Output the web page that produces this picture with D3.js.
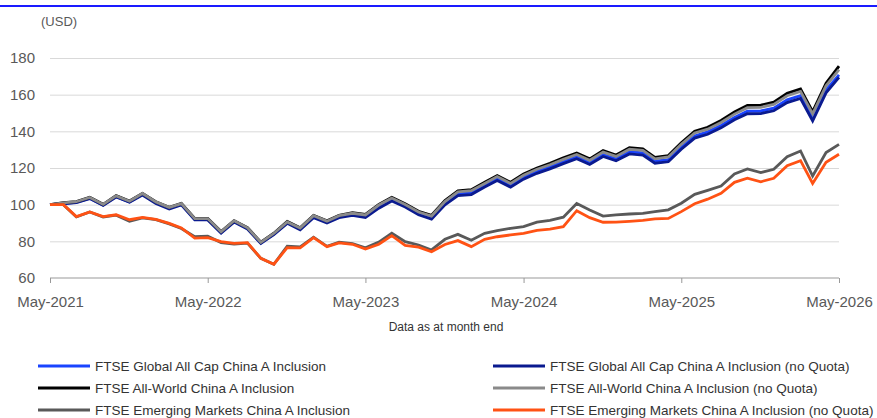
<!DOCTYPE html>
<html>
<head>
<meta charset="utf-8">
<script src="https://cdn.jsdelivr.net/npm/d3@7/dist/d3.min.js"></script>
<style>
  html, body { margin: 0; padding: 0; background: #fff; }
  svg { display: block; font-family: "Liberation Sans", Arial, sans-serif; }
</style>
</head>
<body>
<svg id="chart" width="877" height="418"></svg>
<script>
// ---- Data (monthly, May-2021 .. May-2026, rebased to 100) ----
const tickLabels = ["May-2021", "May-2022", "May-2023", "May-2024", "May-2025", "May-2026"];
const yTicks = [60, 80, 100, 120, 140, 160, 180];

const seriesNames = [
  "FTSE Global All Cap China A Inclusion",
  "FTSE Global All Cap China A Inclusion (no Quota)",
  "FTSE All-World China A Inclusion",
  "FTSE All-World China A Inclusion (no Quota)",
  "FTSE Emerging Markets China A Inclusion",
  "FTSE Emerging Markets China A Inclusion (no Quota)"
];

const globalAllCap = [100,100.7,101.3,103.5,99.8,104.4,101.5,105.6,101,98,100.2,92,92,84.8,90.8,87,79.1,83.9,90.2,86.8,93.4,90.5,93.4,94.7,93.6,98.8,102.8,99.4,95.2,92.8,100.8,105.9,106.5,110.6,114.2,110.5,114.9,118.2,120.6,123.5,126.2,123,127.4,125,128.9,128.2,123.8,124.6,131.4,137.5,139.7,143.2,147.6,151,151.1,152.6,157.2,159.5,147,162.6,170.8];
const globalAllCapNoQuota = [100,100.5,101.1,103.3,99.6,104.2,101.3,105.3,100.7,97.7,99.9,91.7,91.7,84.5,90.5,86.7,78.8,83.6,89.8,86.3,92.9,90,92.9,94.1,93,98.1,102,98.7,94.5,92.1,99.9,104.9,105.5,109.6,113.2,109.5,113.9,117.1,119.5,122.4,125.1,121.9,126.3,123.9,127.7,127,122.6,123.4,130.2,136.3,138.4,141.9,146.3,149.6,149.7,151.2,155.7,157.9,145.7,161,169.4];
const allWorld = [100,101.1,101.7,104,100.2,104.9,102,106.2,101.6,98.6,100.7,92.5,92.5,85.3,91.3,87.5,79.5,84.4,90.8,87.4,94.2,91.2,94.2,95.6,94.7,100.1,104,100.5,96.4,94.2,102.2,107.5,108.2,112.2,115.9,112.2,116.7,120,122.5,125.5,128.2,125,129.5,127.1,131.1,130.4,125.8,126.8,133.8,140.1,142.2,145.9,150.5,154.1,154.3,155.9,160.7,163.1,150.7,166.2,175.6];
const allWorldNoQuota = [100,101,101.6,103.9,100.1,104.8,101.9,106.1,101.5,98.5,100.6,92.4,92.4,85.2,91.2,87.4,79.4,84.3,90.6,87.2,94,91,94,95.3,94.4,99.8,103.6,100.1,96,93.8,101.7,107,107.6,111.6,115.3,111.6,116,119.3,121.8,124.7,127.4,124.2,128.7,126.3,130.2,129.6,125,126,132.9,139.1,141.2,144.8,149.4,152.9,153.1,154.7,159.4,161.8,149.5,164.8,173.6];
const emergingMarkets = [100,100,93.3,96,93.3,94.3,91,92.8,91.8,89.5,87,82.5,82.8,79.3,78.5,79,70.7,67.5,77.3,77,82.3,77.3,79.5,78.8,76.5,79.6,84.4,79.8,78,75.3,81.1,83.8,80.6,84.4,85.8,87.1,88,90.5,91.4,93.2,100.6,97.1,93.8,94.4,94.9,95.3,96.2,97.2,100.8,105.6,107.8,110.2,116.8,119.5,117.5,119.3,126.2,129.3,115.6,128.4,132.9];
const emergingMarketsNoQuota = [100,100,93.5,96,93.5,94.5,91.8,93.1,92,89.8,87.3,81.8,82,79.8,78.9,79.3,70.7,67.5,76.6,76.4,82,77.1,79.2,78.4,75.8,78.4,83.1,77.8,76.8,74.3,78.3,80.4,77.1,81.1,82.5,83.5,84.4,86,86.7,88,96.7,92.9,90.4,90.5,90.9,91.4,92.2,92.5,96.2,100.5,103,106.2,112.2,114.4,112.5,114.4,121.3,124,111.6,123.1,127.5];

const seriesValues = [globalAllCap, globalAllCapNoQuota, allWorld, allWorldNoQuota, emergingMarkets, emergingMarketsNoQuota];
const seriesColors = ["#1a44ff", "#0a1a8f", "#000000", "#8a8a8a", "#595959", "#ff5214"];

// ---- Layout ----
const svg = d3.select("#chart");
const plotL = 50, plotR = 839, plotT = 58, plotB = 278;

const months = d3.timeMonth.range(new Date(2021, 4, 1), new Date(2026, 5, 1));
const x = d3.scaleTime().domain([months[0], months[months.length - 1]]).range([plotL, plotR]);
const y = d3.scaleLinear().domain([60, 180]).range([plotB, plotT]);

// header rule
svg.append("line").attr("x1", 0).attr("x2", 877).attr("y1", 6).attr("y2", 6)
  .attr("stroke", "#1a1aff").attr("stroke-width", 2);

// unit label
svg.append("text").attr("x", 41).attr("y", 26).attr("font-size", 13).attr("fill", "#595959").text("(USD)");

// gridlines + y labels
const yAxis = d3.axisLeft(y).tickValues(yTicks).tickSize(-(plotR - plotL)).tickFormat(d3.format("d")).tickPadding(15);
const gy = svg.append("g").attr("transform", `translate(${plotL},0)`).call(yAxis);
gy.select(".domain").remove();
gy.selectAll(".tick line").attr("stroke", "#d9d9d9").attr("stroke-width", 1);
gy.selectAll(".tick text").attr("font-size", 15).attr("fill", "#595959").attr("font-family", "Liberation Sans, Arial, sans-serif");
gy.selectAll(".tick").filter(d => d === 60).select("line").remove();

// x axis
const tickDates = tickLabels.map((_, i) => months[i * 12]);
const xAxis = d3.axisBottom(x).tickValues(tickDates).tickSize(5).tickPadding(13)
  .tickFormat((d, i) => tickLabels[i]);
const gx = svg.append("g").attr("transform", `translate(0,${plotB})`).call(xAxis);
gx.select(".domain").attr("stroke", "#999").attr("d", `M${plotL},0H${plotR}`);
gx.selectAll(".tick line").attr("stroke", "#999");
gx.selectAll(".tick text").attr("font-size", 15).attr("fill", "#595959").attr("font-family", "Liberation Sans, Arial, sans-serif");

// lines
const line = d3.line().x((d, i) => x(months[i])).y(d => y(d)).curve(d3.curveLinear);
seriesValues.forEach((vals, k) => {
  svg.append("path").datum(vals).attr("d", line).attr("fill", "none")
    .attr("stroke", seriesColors[k]).attr("stroke-width", 2.8).attr("stroke-linejoin", "miter");
});

// footnote
svg.append("text").attr("x", 446).attr("y", 331).attr("text-anchor", "middle")
  .attr("font-size", 12).attr("fill", "#333").text("Data as at month end");

// legend
const legCols = [38, 493], legRows = [366, 388, 410];
seriesNames.forEach((name, k) => {
  const cx = legCols[k % 2], cy = legRows[Math.floor(k / 2)];
  const g = svg.append("g").attr("transform", `translate(${cx},${cy})`);
  g.append("line").attr("x1", 0).attr("x2", 52).attr("y1", 0).attr("y2", 0)
    .attr("stroke", seriesColors[k]).attr("stroke-width", 3);
  g.append("text").attr("x", 57).attr("y", 5).attr("font-size", 13.5).attr("fill", "#333").text(name);
});
</script>
</body>
</html>
